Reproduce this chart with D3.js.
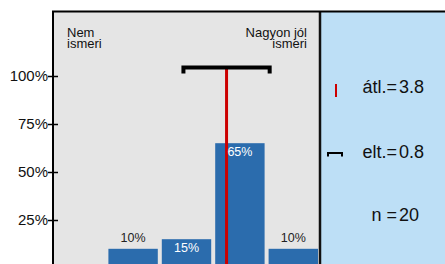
<!DOCTYPE html>
<html>
<head>
<meta charset="utf-8">
<script src="https://cdn.jsdelivr.net/npm/d3@7"></script>
<style>
  body { margin: 0; background: #fff; }
  text { font-family: "Liberation Sans", Arial, sans-serif; }
</style>
</head>
<body>
<svg id="chart" width="445" height="264"></svg>
<script>
// answer categories 1..5 and share of respondents
const categories = [1, 2, 3, 4, 5];
const shares = [0, 0.10, 0.15, 0.65, 0.10];
const yTicks = [0.25, 0.5, 0.75, 1];
const endLabelsLeft = ["Nem", "ismeri"];
const endLabelsRight = ["Nagyon jól", "ismeri"];

// summary stats
const meanValue = 3.75;
const sdValue = 0.77;
const statLabels = ["átl.=", "elt.=", "n ="];
const statValues = ["3.8", "0.8", "20"];

const svg = d3.select("#chart");

// plot area - the bottom is cut off by the window like in the original
const plot = {left: 53, right: 320, top: 12, bottom: 268};

const x = d3.scaleBand()
    .domain(categories)
    .range([plot.left, plot.right])
    .paddingInner(0.075)
    .paddingOuter(0.0375);

// continuous position on the same 1..5 axis (for mean / sd)
const xv = v => x(1) + x.bandwidth() / 2 + (v - 1) * x.step();

const y = d3.scaleLinear().domain([0, 1]).range([plot.bottom, 76]);

//background panels
svg.append("rect")
    .attr("x", plot.left).attr("y", plot.top)
    .attr("width", plot.right - plot.left).attr("height", 300)
    .attr("fill", "#e5e5e5");
svg.append("rect")
    .attr("x", plot.right).attr("y", plot.top)
    .attr("width", 200).attr("height", 300)
    .attr("fill", "#bddff6");

// bars
svg.selectAll(".bar").data(categories).enter()
    .append("rect").classed("bar", true)
    .attr("x", d => x(d))
    .attr("y", (d, i) => y(shares[i]))
    .attr("width", x.bandwidth())
    .attr("height", (d, i) => y(0) - y(shares[i]))
    .attr("fill", "#2b6cad");

// mean line + sd bracket
const bracketY = 67.5;
svg.append("line")
    .attr("x1", xv(meanValue)).attr("x2", xv(meanValue))
    .attr("y1", bracketY).attr("y2", 270)
    .attr("stroke", "#cc0000").attr("stroke-width", 3);

const x1 = xv(meanValue - sdValue) - 2, x2 = xv(meanValue + sdValue) + 2;
svg.append("path")
    .attr("d", `M${x1},${bracketY + 4}V${bracketY}H${x2}V${bracketY + 4}`)
    .attr("fill", "none").attr("stroke", "#000")
    .attr("stroke-width", 4).attr("stroke-linecap", "square");

// bar labels: inside (white) for bigger bars, above for small ones
svg.selectAll(".barLabel").data(categories.filter((d, i) => shares[i] > 0)).enter()
    .append("text").classed("barLabel", true)
    .attr("x", d => x(d) + x.bandwidth() / 2)
    .attr("y", d => {
        let s = shares[categories.indexOf(d)];
        return s >= 0.15 ? y(s) + 13 : y(s) - 7;
    })
    .attr("text-anchor", "middle")
    .attr("font-size", "12.5px")
    .attr("fill", d => shares[categories.indexOf(d)] >= 0.15 ? "#fff" : "#222")
    .text(d => Math.round(shares[categories.indexOf(d)] * 100) + "%");

// y axis
const yAxis = d3.axisLeft(y)
    .tickValues(yTicks)
    .tickFormat(d => Math.round(d * 100) + "%")
    .tickSize(5)
    .tickPadding(0);

const gy = svg.append("g")
    .attr("transform", `translate(${plot.left},0)`)
    .call(yAxis);
gy.select(".domain").remove();
gy.selectAll(".tick line").attr("x1", 5).attr("x2", -5).attr("stroke", "#000").attr("stroke-width", 1.5);
gy.selectAll(".tick text")
    .attr("font-family", "Liberation Sans, Arial, sans-serif")
    .attr("font-size", "15px").attr("fill", "#111");

// frame lines
svg.append("line")
    .attr("x1", plot.left).attr("x2", plot.left)
    .attr("y1", plot.top - 1).attr("y2", 270)
    .attr("stroke", "#000").attr("stroke-width", 2);
svg.append("line")
    .attr("x1", plot.right).attr("x2", plot.right)
    .attr("y1", plot.top - 1).attr("y2", 270)
    .attr("stroke", "#111").attr("stroke-width", 2.5);
svg.append("line")
    .attr("x1", plot.left - 1).attr("x2", 445)
    .attr("y1", plot.top - 0.5).attr("y2", plot.top - 0.5)
    .attr("stroke", "#000").attr("stroke-width", 2);

// end labels (tight two-line labels like the original)
svg.selectAll(".endL").data(endLabelsLeft).enter()
    .append("text").classed("endL", true)
    .attr("x", 67).attr("y", (d, i) => 37 + i * 11)
    .attr("font-size", "13px").attr("fill", "#111")
    .text(d => d);
svg.selectAll(".endR").data(endLabelsRight).enter()
    .append("text").classed("endR", true)
    .attr("x", 307).attr("y", (d, i) => 37 + i * 11)
    .attr("text-anchor", "end")
    .attr("font-size", "13px").attr("fill", "#111")
    .text(d => d);

// stats panel
const statY = [93, 158, 221];
svg.selectAll(".statL").data(statLabels).enter()
    .append("text").classed("statL", true)
    .attr("x", 397).attr("y", (d, i) => statY[i])
    .attr("text-anchor", "end")
    .attr("font-size", "18px").attr("fill", "#111")
    .text(d => d);
svg.selectAll(".statV").data(statValues).enter()
    .append("text").classed("statV", true)
    .attr("x", 399).attr("y", (d, i) => statY[i])
    .attr("font-size", "18px").attr("fill", "#111")
    .text(d => d);

// legend marks
svg.append("line")
    .attr("x1", 336).attr("x2", 336).attr("y1", 84).attr("y2", 97)
    .attr("stroke", "#cc0000").attr("stroke-width", 2);
svg.append("path")
    .attr("d", "M328,156.5V153H342V156.5")
    .attr("fill", "none").attr("stroke", "#000").attr("stroke-width", 2);
</script>
</body>
</html>
